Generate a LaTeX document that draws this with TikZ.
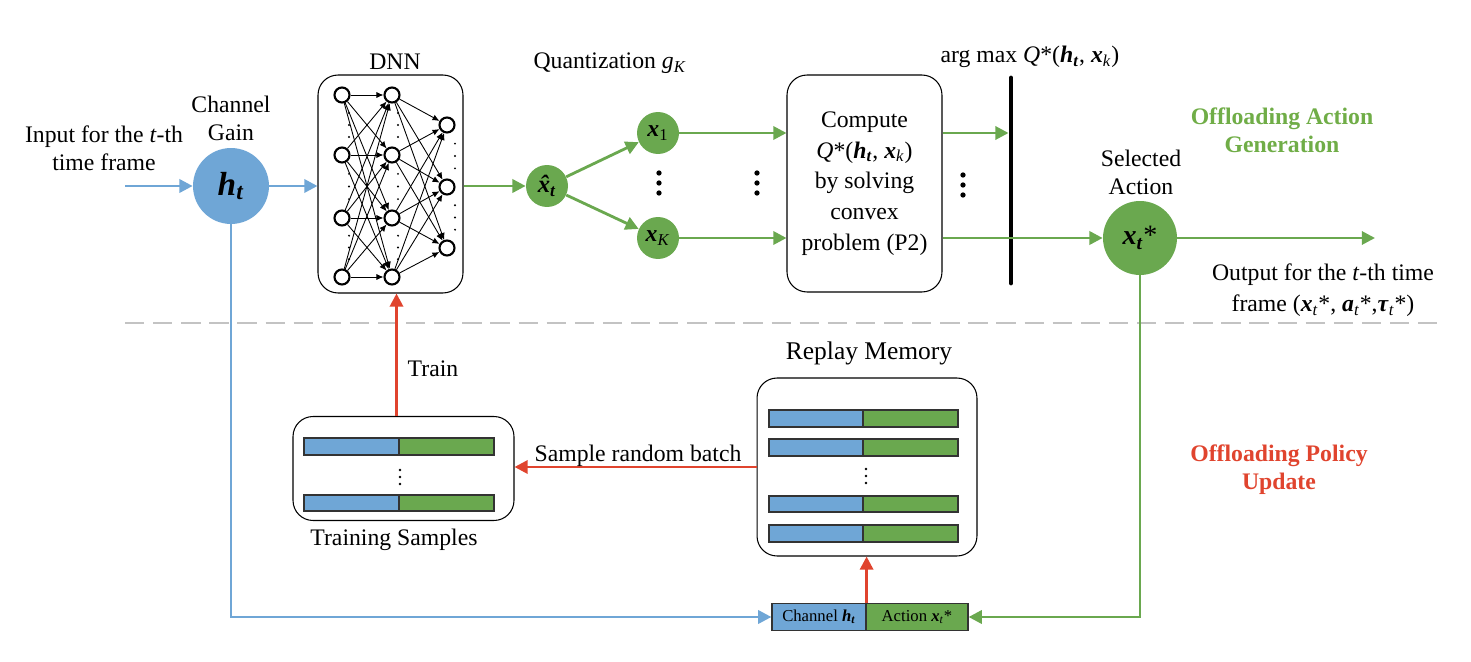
\documentclass[tikz,border=0pt]{standalone}
\usepackage{fontspec}
\setmainfont{Liberation Serif}
\usetikzlibrary{arrows.meta,calc}
\definecolor{cblue}{RGB}{111,166,214}
\definecolor{cgreen}{RGB}{106,168,79}
\definecolor{cred}{RGB}{224,68,46}
\definecolor{tgreen}{RGB}{112,173,71}
\definecolor{cgray}{RGB}{195,195,195}
\newcommand{\bi}[1]{\textbf{\textit{#1}}}
\newcommand{\sbi}[1]{\textsubscript{\textbf{\textit{#1}}}}
\newcommand{\si}[1]{\textsubscript{\textit{#1}}}
\begin{document}
\begin{tikzpicture}[x=0.02cm,y=-0.02cm,
  font=\fontsize{13.5}{16}\selectfont,
  barr/.style={draw=cblue,line width=1.6pt,-{Triangle[length=7.5pt,width=7.5pt]}},
  garr/.style={draw=cgreen,line width=1.6pt,-{Triangle[length=7.5pt,width=7.5pt]}},
  rarr/.style={draw=cred,line width=1.6pt,-{Triangle[length=7.5pt,width=7.5pt]}},
  rbox/.style={draw,line width=0.6pt,rounded corners=0.4cm,inner sep=0},
  bcirc/.style={circle,fill=cblue,inner sep=0},
  gcirc/.style={circle,fill=cgreen,inner sep=0},
  nn/.style={circle,draw,line width=1.2pt,fill=white,minimum size=0.3cm,inner sep=0},
  nnarr/.style={line width=0.5pt,-{Latex[length=4pt,width=3.5pt]}},
  cell/.style={draw=black!80,line width=0.7pt}]
\useasboundingbox (0,0) rectangle (1471,662);

% separator
\draw[cgray,line width=1.7pt,dash pattern=on 11pt off 5pt] (125,323) -- (1440,323);

% input
\coordinate (in) at (125,186);
\node[align=center] (inlbl) at (104,148) {Input for the \textit{t}-th\\time frame};
\node[align=center] (cglbl) at (231,118) {Channel\\Gain};
\node[bcirc,minimum size=1.52cm] (h) at (231,186) {\fontsize{19}{19}\selectfont\bi{h}\sbi{t}};
\draw[barr] (in) -- (h.west);

% DNN
\node (dnnlbl) at (395,62) {DNN};
\node[rbox,minimum width=2.9cm,minimum height=4.36cm] (dnn) at (390.5,184) {};
\draw[barr] (h.east) -- (h.east -| dnn.west);
\foreach \i/\y in {1/95,2/155,3/218,4/277}{
  \node[nn] (a\i) at (342,\y) {};
  \node[nn] (b\i) at (392,\y) {};
}
\foreach \i/\y in {1/125,2/187,3/248} \node[nn] (c\i) at (447,\y) {};
\foreach \i in {1,...,4} \foreach \j in {1,...,4} \draw[nnarr] (a\i) -- (b\j);
\foreach \i in {1,...,4} \foreach \j in {1,2,3} \draw[nnarr] (b\i) -- (c\j);
\foreach \ya/\yb in {95/155,155/218,218/277}{
  \foreach \f in {0.3,0.5,0.7}{
    \fill (349,{\ya+\f*(\yb-\ya)}) circle (0.6pt);
    \fill (398,{\ya+\f*(\yb-\ya)}) circle (0.6pt);
  }
}
\foreach \ya/\yb in {125/187,187/248}{
  \foreach \f in {0.3,0.5,0.7} \fill (455,{\ya+\f*(\yb-\ya)}) circle (0.6pt);
}

% quantization
\node (qlbl) at (610,63) {Quantization \textit{g}\si{K}};
\node[gcirc,minimum size=0.84cm] (xh) at (547,186) {\fontsize{14}{14}\selectfont\bi{\accent"02C6 x}\sbi{t}};
\draw[garr] (dnn.east |- xh) -- (xh.west);
\node[gcirc,minimum size=0.84cm] (x1) at (658,133) {\bi{x}\textsubscript{1}};
\node[gcirc,minimum size=0.84cm] (xK) at (658,238) {\bi{x}\si{K}};
\draw[garr] (xh) -- (x1);
\draw[garr] (xh) -- (xK);
\foreach \y in {173,183,193}{
  \fill (659,\y) circle (1.5pt);
  \fill (757,\y) circle (1.5pt);
  \fill (963,{\y+2}) circle (1.5pt);
}

% compute box
\node[rbox,minimum width=3.1cm,minimum height=4.34cm,align=center,
  font=\fontsize{13.5}{17.5}\selectfont] (comp) at (864.5,183.5)
  {Compute\\\textit{Q}*(\bi{h}\sbi{t}, \bi{x}\si{k})\\by solving\\convex\\problem (P2)};
\draw[garr] (x1) -- (x1 -| comp.west);
\draw[garr] (xK) -- (xK -| comp.west);

% argmax bar
\node (amlbl) at (1030,57) {arg max \textit{Q}*(\bi{h}\sbi{t}, \bi{x}\si{k})};
\coordinate (bt) at (1011,78);
\coordinate (bb) at (1011,283);
\coordinate (bl) at ([xshift=-1.4pt]bt);
\draw[line width=2.8pt,line cap=round] (bt) -- (bb);
\draw[garr] (comp.east |- x1) -- (bl |- x1);

% selected action
\node[align=center] (salbl) at (1141,172) {Selected\\Action};
\node[gcirc,minimum size=1.48cm] (xs) at (1140,238) {\fontsize{16}{16}\selectfont\bi{x}\sbi{t}*};
\draw[garr] (comp.east |- xK) -- (xs.west);
\coordinate (out) at (1375,238);
\draw[garr] (xs.east) -- (out);
\node[align=center,text=tgreen,font=\fontsize{13.5}{16}\selectfont\bfseries] (oag) at (1282,130) {Offloading Action\\Generation};
\node[align=center,font=\fontsize{13.5}{18}\selectfont] (outlbl) at (1323,290)
  {Output for the \textit{t}-th time\\frame (\bi{x}\si{t}*, \bi{a}\si{t}*,\bi{τ}\si{t}*)};
\node[align=center,text=cred,font=\fontsize{13.5}{16}\selectfont\bfseries] (opu) at (1279,470) {Offloading Policy\\Update};

% replay memory
\node[font=\fontsize{14.5}{16}\selectfont] (rmlbl) at (869,353) {Replay Memory};
\node[rbox,minimum width=4.4cm,minimum height=3.56cm] (rm) at (867,467) {};
\foreach \ya/\yb in {410/427,439/456,496/512,525/542}{
  \filldraw[cell,fill=cblue] (769,\ya) rectangle (863,\yb);
  \filldraw[cell,fill=cgreen] (863,\ya) rectangle (958,\yb);
}
\foreach \y in {469,476,483} \fill (866,\y) circle (0.8pt);

% training samples
\node[rbox,minimum width=4.42cm,minimum height=2.08cm] (ts) at (403.5,468.5) {};
\foreach \ya/\yb in {438/455,495/511}{
  \filldraw[cell,fill=cblue] (304,\ya) rectangle (399,\yb);
  \filldraw[cell,fill=cgreen] (399,\ya) rectangle (494,\yb);
}
\foreach \y in {470,477,484} \fill (400,\y) circle (0.8pt);
\node (tslbl) at (394,540) {Training Samples};
\draw[rarr] (rm.west) -- (rm.west -| ts.east);
\node (srb) at (638,456) {Sample random batch};
\draw[rarr] ([xshift=0.12cm]dnn.south |- ts.north) -- ([xshift=0.12cm]dnn.south);
\node (trlbl) at (433,369) {Train};

% channel/action record
\node[draw=black!80,line width=0.7pt,fill=cblue,minimum width=1.88cm,minimum height=0.54cm,inner sep=0,
  font=\fontsize{9.5}{11}\selectfont] (chan) at (819,617) {Channel \bi{h}\sbi{t}};
\node[draw=black!80,line width=0.7pt,fill=cgreen,minimum width=2.04cm,minimum height=0.54cm,inner sep=0,
  font=\fontsize{9.5}{11}\selectfont] (act) at (917,617) {Action \bi{x}\si{t}*};
\draw[barr] (h.south) -- (h.south |- chan.west) -- (chan.west);
\draw[garr] (xs.south) -- (xs.south |- act.east) -- (act.east);
\draw[rarr] (chan.north east) -- (chan.north east |- rm.south);
\end{tikzpicture}
\end{document}
